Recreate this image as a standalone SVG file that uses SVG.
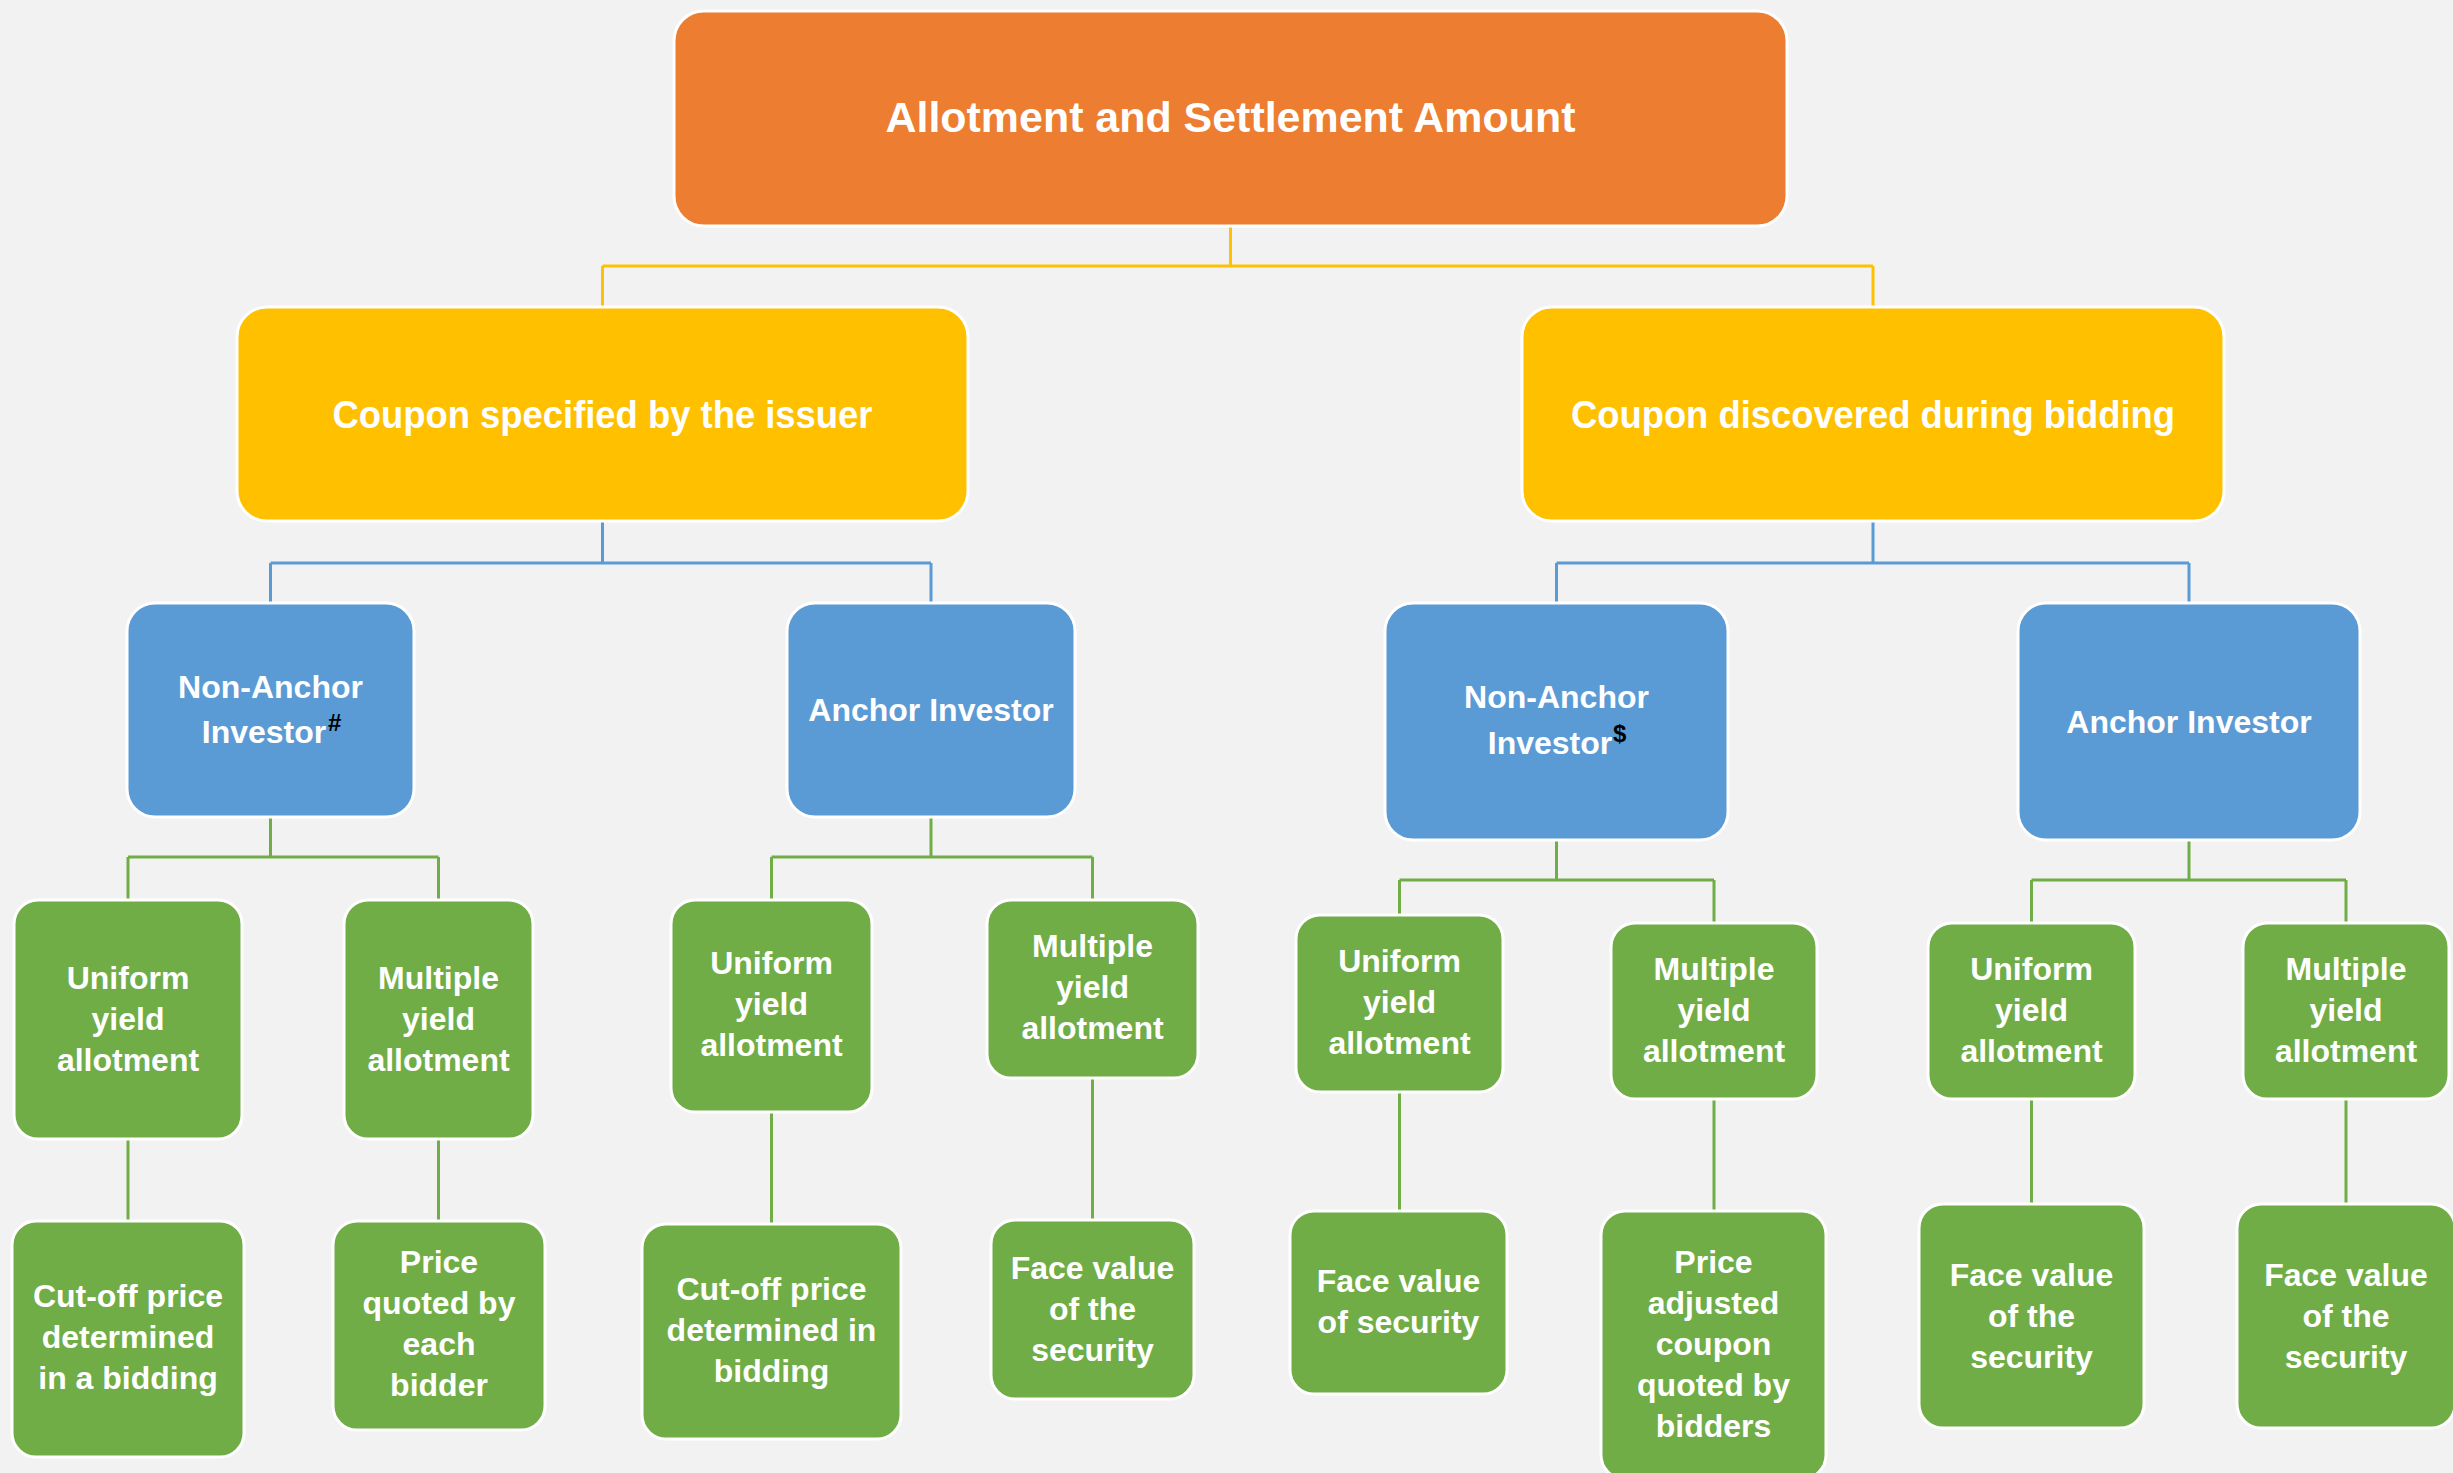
<svg xmlns="http://www.w3.org/2000/svg" width="2453" height="1473" viewBox="0 0 2453 1473">
  <style>
    .box { stroke: #ffffff; stroke-width: 3; }
    .root { fill: #ed7d31; }
    .lvl1 { fill: #ffc000; }
    .lvl2 { fill: #5b9bd5; }
    .lvl3 { fill: #70ad47; }
    text { font-family: "Liberation Sans", Arial, sans-serif; font-weight: bold; fill: #ffffff; text-anchor: middle; }
    .t-root { font-size: 43px; }
    .t-l1 { font-size: 38px; }
    .t-l2 { font-size: 32px; }
    .t-l3 { font-size: 32px; }
    .sup { fill: #000000; font-size: 24px; text-anchor: start; }
    .c-y { stroke: #ffc000; stroke-width: 3; fill: none; }
    .c-b { stroke: #5b9bd5; stroke-width: 3; fill: none; }
    .c-g { stroke: #70ad47; stroke-width: 3; fill: none; }
  </style>

  <rect width="2453" height="1473" fill="#f2f2f2"/>

  <!-- connectors -->
  <g id="connectors">
    <path class="c-y" d="M1230.5 226 V266 M602.5 266 H1873 M602.5 266 V307 M1873 266 V307"/>
    <path class="c-b" d="M602.5 521 V563 M270.5 563 H931 M270.5 563 V603 M931 563 V603"/>
    <path class="c-b" d="M1873 521 V563 M1556.5 563 H2189 M1556.5 563 V603 M2189 563 V603"/>
    <path class="c-g" d="M270.5 817 V857 M128 857 H438.5 M128 857 V900 M438.5 857 V900"/>
    <path class="c-g" d="M931 817 V857 M771.5 857 H1092.5 M771.5 857 V900 M1092.5 857 V900"/>
    <path class="c-g" d="M1556.5 840 V880 M1399.5 880 H1714 M1399.5 880 V915 M1714 880 V923"/>
    <path class="c-g" d="M2189 840 V880 M2031.5 880 H2346 M2031.5 880 V923 M2346 880 V923"/>
    <path class="c-g" d="M128 1139 V1221 M438.5 1139 V1221 M771.5 1112 V1224 M1092.5 1078 V1220 M1399.5 1092 V1211 M1714 1099 V1211 M2031.5 1099 V1204 M2346 1099 V1204"/>
  </g>

  <!-- top -->
  <g id="n-root">
    <rect class="box root" x="674" y="11" width="1113" height="215" rx="30"/>
    <text class="t-root" x="1230.5" y="131.5" textLength="690" lengthAdjust="spacingAndGlyphs">Allotment and Settlement Amount</text>
  </g>

  <!-- coupon type -->
  <g id="n-specified">
    <rect class="box lvl1" x="237" y="307" width="731" height="214" rx="30"/>
    <text class="t-l1" x="602.5" y="428" textLength="540" lengthAdjust="spacingAndGlyphs">Coupon specified by the issuer</text>
  </g>
  <g id="n-discovered">
    <rect class="box lvl1" x="1522" y="307" width="702" height="214" rx="30"/>
    <text class="t-l1" x="1873" y="428" textLength="604" lengthAdjust="spacingAndGlyphs">Coupon discovered during bidding</text>
  </g>

  <!-- investor type -->
  <g id="n-nonanchor-1">
    <rect class="box lvl2" x="127" y="603" width="287" height="214" rx="28"/>
    <text class="t-l2" x="270.5" y="698">Non-Anchor</text>
    <text class="t-l2" x="264" y="743">Investor</text>
    <text class="sup" x="328" y="731">#</text>
  </g>
  <g id="n-anchor-1">
    <rect class="box lvl2" x="787" y="603" width="288" height="214" rx="28"/>
    <text class="t-l2" x="931" y="721">Anchor Investor</text>
  </g>
  <g id="n-nonanchor-2">
    <rect class="box lvl2" x="1385" y="603" width="343" height="237" rx="28"/>
    <text class="t-l2" x="1556.5" y="708">Non-Anchor</text>
    <text class="t-l2" x="1550" y="754">Investor</text>
    <text class="sup" x="1613" y="742">$</text>
  </g>
  <g id="n-anchor-2">
    <rect class="box lvl2" x="2018" y="603" width="342" height="237" rx="28"/>
    <text class="t-l2" x="2189" y="733">Anchor Investor</text>
  </g>

  <!-- allotment method -->
  <g id="n-uniform-1">
    <rect class="box lvl3" x="14" y="900" width="228" height="239" rx="24"/>
    <text class="t-l3" x="128" y="989">Uniform</text>
    <text class="t-l3" x="128" y="1030">yield</text>
    <text class="t-l3" x="128" y="1071">allotment</text>
  </g>
  <g id="n-multiple-1">
    <rect class="box lvl3" x="344" y="900" width="189" height="239" rx="24"/>
    <text class="t-l3" x="438.5" y="989">Multiple</text>
    <text class="t-l3" x="438.5" y="1030">yield</text>
    <text class="t-l3" x="438.5" y="1071">allotment</text>
  </g>
  <g id="n-uniform-2">
    <rect class="box lvl3" x="671" y="900" width="201" height="212" rx="24"/>
    <text class="t-l3" x="771.5" y="974">Uniform</text>
    <text class="t-l3" x="771.5" y="1015">yield</text>
    <text class="t-l3" x="771.5" y="1056">allotment</text>
  </g>
  <g id="n-multiple-2">
    <rect class="box lvl3" x="987" y="900" width="211" height="178" rx="24"/>
    <text class="t-l3" x="1092.5" y="957">Multiple</text>
    <text class="t-l3" x="1092.5" y="998">yield</text>
    <text class="t-l3" x="1092.5" y="1039">allotment</text>
  </g>
  <g id="n-uniform-3">
    <rect class="box lvl3" x="1296" y="915" width="207" height="177" rx="24"/>
    <text class="t-l3" x="1399.5" y="972">Uniform</text>
    <text class="t-l3" x="1399.5" y="1013">yield</text>
    <text class="t-l3" x="1399.5" y="1054">allotment</text>
  </g>
  <g id="n-multiple-3">
    <rect class="box lvl3" x="1611" y="923" width="206" height="176" rx="24"/>
    <text class="t-l3" x="1714" y="980">Multiple</text>
    <text class="t-l3" x="1714" y="1021">yield</text>
    <text class="t-l3" x="1714" y="1062">allotment</text>
  </g>
  <g id="n-uniform-4">
    <rect class="box lvl3" x="1928" y="923" width="207" height="176" rx="24"/>
    <text class="t-l3" x="2031.5" y="980">Uniform</text>
    <text class="t-l3" x="2031.5" y="1021">yield</text>
    <text class="t-l3" x="2031.5" y="1062">allotment</text>
  </g>
  <g id="n-multiple-4">
    <rect class="box lvl3" x="2243" y="923" width="206" height="176" rx="24"/>
    <text class="t-l3" x="2346" y="980">Multiple</text>
    <text class="t-l3" x="2346" y="1021">yield</text>
    <text class="t-l3" x="2346" y="1062">allotment</text>
  </g>

  <!-- settlement basis -->
  <g id="n-cutoff-1">
    <rect class="box lvl3" x="12" y="1221" width="232" height="236" rx="24"/>
    <text class="t-l3" x="128" y="1307">Cut-off price</text>
    <text class="t-l3" x="128" y="1348">determined</text>
    <text class="t-l3" x="128" y="1389">in a bidding</text>
  </g>
  <g id="n-price-1">
    <rect class="box lvl3" x="333" y="1221" width="212" height="209" rx="24"/>
    <text class="t-l3" x="439" y="1273">Price</text>
    <text class="t-l3" x="439" y="1314">quoted by</text>
    <text class="t-l3" x="439" y="1355">each</text>
    <text class="t-l3" x="439" y="1396">bidder</text>
  </g>
  <g id="n-cutoff-2">
    <rect class="box lvl3" x="642" y="1224" width="259" height="215" rx="24"/>
    <text class="t-l3" x="771.5" y="1300">Cut-off price</text>
    <text class="t-l3" x="771.5" y="1341">determined in</text>
    <text class="t-l3" x="771.5" y="1382">bidding</text>
  </g>
  <g id="n-face-1">
    <rect class="box lvl3" x="991" y="1220" width="203" height="179" rx="24"/>
    <text class="t-l3" x="1092.5" y="1279">Face value</text>
    <text class="t-l3" x="1092.5" y="1320">of the</text>
    <text class="t-l3" x="1092.5" y="1361">security</text>
  </g>
  <g id="n-face-2">
    <rect class="box lvl3" x="1290" y="1211" width="217" height="183" rx="24"/>
    <text class="t-l3" x="1398.5" y="1292">Face value</text>
    <text class="t-l3" x="1398.5" y="1333">of security</text>
  </g>
  <g id="n-price-2">
    <rect class="box lvl3" x="1601" y="1211" width="225" height="268" rx="24"/>
    <text class="t-l3" x="1713.5" y="1273">Price</text>
    <text class="t-l3" x="1713.5" y="1314">adjusted</text>
    <text class="t-l3" x="1713.5" y="1355">coupon</text>
    <text class="t-l3" x="1713.5" y="1396">quoted by</text>
    <text class="t-l3" x="1713.5" y="1437">bidders</text>
  </g>
  <g id="n-face-3">
    <rect class="box lvl3" x="1919" y="1204" width="225" height="224" rx="24"/>
    <text class="t-l3" x="2031.5" y="1286">Face value</text>
    <text class="t-l3" x="2031.5" y="1327">of the</text>
    <text class="t-l3" x="2031.5" y="1368">security</text>
  </g>
  <g id="n-face-4">
    <rect class="box lvl3" x="2237" y="1204" width="218" height="224" rx="24"/>
    <text class="t-l3" x="2346" y="1286">Face value</text>
    <text class="t-l3" x="2346" y="1327">of the</text>
    <text class="t-l3" x="2346" y="1368">security</text>
  </g>
</svg>
